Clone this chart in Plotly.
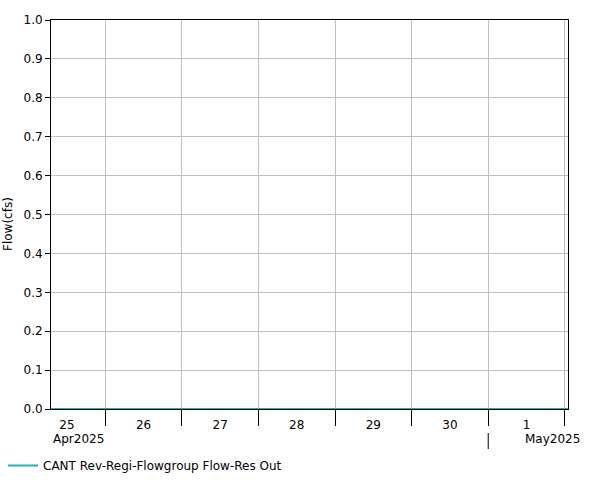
import plotly.graph_objects as go

# Data
times = ["2025-04-25 07:00", "2025-04-26 00:00", "2025-04-27 00:00", "2025-04-28 00:00",
         "2025-04-29 00:00", "2025-04-30 00:00", "2025-05-01 00:00", "2025-05-02 00:00",
         "2025-05-02 01:00"]
flow = [0, 0, 0, 0, 0, 0, 0, 0, 0]
series_name = "CANT Rev-Regi-Flowgroup Flow-Res Out"
x_range = ["2025-04-25 07:00", "2025-05-02 01:00"]
y_ticks = [0.0, 0.1, 0.2, 0.3, 0.4, 0.5, 0.6, 0.7, 0.8, 0.9, 1.0]
month_labels = [("2025-04-25 07:00", "Apr2025", 0), ("2025-05-01 12:00", "May2025", -4)]
month_boundary = "2025-05-01 00:00"

W, H = 601, 480
L, T, R, B = 51, 20, 33, 71
pw, ph = W - L - R, H - T - B

FONT = "DejaVu Sans"
fig = go.Figure()
fig.add_trace(go.Scatter(x=times, y=flow, mode="lines", name=series_name,
                         line=dict(color="#20b2aa", width=2), showlegend=True))

fig.update_layout(
    width=W, height=H,
    margin=dict(l=L, r=R, t=T, b=B, pad=0),
    paper_bgcolor="white", plot_bgcolor="white",
    font=dict(family=FONT, size=12, color="black"),
    showlegend=True,
    legend=dict(orientation="h", xref="container", yref="container", x=3 / W, y=0.0,
                xanchor="left", yanchor="bottom", font=dict(family=FONT, size=12),
                bgcolor="rgba(0,0,0,0)"),
    xaxis=dict(type="date", range=x_range, dtick=86400000, tick0="2025-04-26",
               tickformat="%-d", ticklabelmode="period", ticks="outside", ticklen=16,
               tickcolor="black", tickwidth=1, showgrid=True, gridcolor="#c0c0c0",
               gridwidth=1, showline=True, linecolor="black", linewidth=1, mirror=True,
               zeroline=False, ticklabelstandoff=-11, tickfont=dict(family=FONT, size=12)),
    yaxis=dict(range=[0, 1], tickvals=y_ticks, ticktext=[f"{v:.1f}" for v in y_ticks],
               ticks="outside", ticklen=5, tickcolor="black", showgrid=True,
               gridcolor="#c0c0c0", showline=True, linecolor="black", linewidth=1,
               mirror=True, zeroline=False, tickfont=dict(family=FONT, size=12)),
)

for xv, txt, xs in month_labels:
    fig.add_annotation(x=xv, xref="x", y=-(439 - (T + ph)) / ph, yref="paper",
                       text=txt, showarrow=False, xanchor="left", yanchor="middle",
                       xshift=xs, font=dict(family=FONT, size=12))

fig.add_shape(type="line", x0=month_boundary, x1=month_boundary, xref="x",
              y0=-(433 - (T + ph)) / ph, y1=-(449 - (T + ph)) / ph, yref="paper",
              line=dict(color="black", width=1))

fig.add_annotation(x=(8 - L) / pw, xref="paper", y=((T + ph) - 224) / ph, yref="paper",
                   text="Flow(cfs)", textangle=-90, showarrow=False,
                   xanchor="center", yanchor="middle", font=dict(family=FONT, size=12))

fig.write_html("out.html", config={"displayModeBar": False},
               post_script="document.body.style.margin='0';document.body.style.overflow='hidden';")
